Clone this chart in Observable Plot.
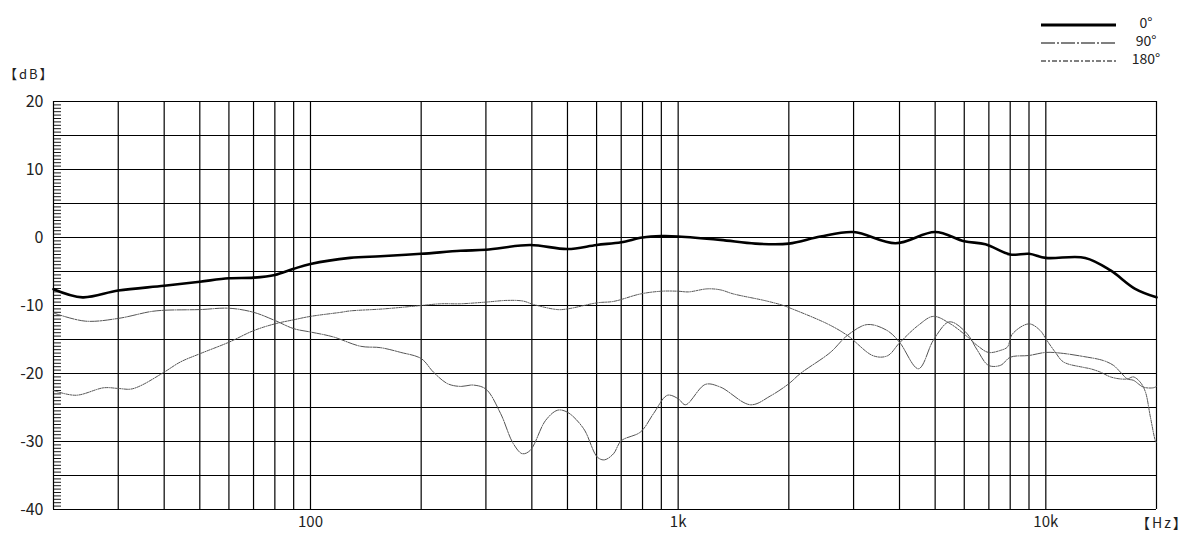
<!DOCTYPE html>
<html><head><meta charset="utf-8">
<script src="https://cdn.jsdelivr.net/npm/d3@7"></script>
<script src="https://cdn.jsdelivr.net/npm/@observablehq/plot@0.6"></script>
<style>
html,body{margin:0;padding:0;background:#fff;}
#wrap{position:relative;width:1200px;height:555px;font-family:"Noto Sans CJK JP","Noto Sans",sans-serif;color:#222;}
.lab{position:absolute;font-size:13px;line-height:1;white-space:nowrap;letter-spacing:2px;}
.leg{position:absolute;left:1040px;width:160px;height:16px;}
.leg svg{position:absolute;left:0;top:0;}
.leg span{position:absolute;left:106px;width:0;top:0;font-size:14px;line-height:1;display:flex;justify-content:center;}
</style></head><body><div id="wrap"></div>
<script>
// 0° (on-axis)
const freq0=[20,24,30,40,50,60,70,80,90,100,128,155,200,256,300,396,500,600,700,800,900,1000,1303,1622,2000,2438,3000,3900,5000,6000,6850,8000,9000,10000,12800,15000,17500,20000];
const db0=[-7.6,-8.8,-7.8,-7.1,-6.5,-6.0,-5.9,-5.5,-4.6,-3.9,-3.0,-2.75,-2.4,-1.95,-1.8,-1.1,-1.7,-1.1,-0.7,0.0,0.2,0.15,-0.35,-0.9,-0.9,0.15,0.8,-0.85,0.8,-0.55,-1.0,-2.5,-2.4,-3.0,-3.0,-4.85,-7.55,-8.8];
// 90°
const freq90=[20,24.4,30,36.7,40,50,60,70,80,90,100,115,137,155,176,200,216,236,256,277,300,329,356,377,396,436,470,500,553,603,630,667,700,790,857,935,1000,1047,1186,1303,1573,1782,2000,2150,2594,2886,3272,3708,4000,4504,4944,5398,5606,6120,6516,6982,7528,8012,9000,10000,10958,12656,14344,15272,15956,16668,17306,18422,19616,20000];
const db90=[-11.1,-12.3,-11.9,-10.9,-10.7,-10.6,-10.4,-11.0,-12.2,-13.4,-13.9,-14.6,-16.0,-16.2,-16.9,-17.8,-19.8,-21.5,-21.9,-21.7,-22.3,-25.9,-30.3,-31.8,-31.3,-26.9,-25.4,-25.7,-28.1,-32.3,-32.7,-31.8,-29.9,-28.6,-25.9,-23.2,-23.7,-24.6,-21.6,-22.0,-24.6,-23.3,-21.5,-20.0,-16.9,-14.4,-12.8,-13.7,-15.4,-19.3,-15.1,-12.5,-12.5,-14.2,-16.6,-18.8,-18.8,-17.6,-17.35,-16.9,-17.0,-17.5,-18.1,-18.8,-19.8,-20.8,-21.0,-22.0,-22.1,-21.9];
// 180°
const freq180=[20,23,27.4,30,32.4,34.5,40,44.3,50,60,70,80,90,100,121,128,158,200,226,256,300,343,379,404,470,500,603,667,790,900,1000,1067,1201,1303,1414,1728,1934,2000,2547,2886,3396,3708,4000,4504,4944,5502,6120,6516,6982,7528,7864,8110,9000,9662,10000,10620,11166,12656,13214,14076,14988,15956,16668,17306,18080,18656,19250,19860,20000];
const db180=[-22.5,-23.2,-22.1,-22.2,-22.3,-21.8,-19.8,-18.3,-17.1,-15.4,-13.7,-12.7,-12.1,-11.6,-11.0,-10.8,-10.5,-10.0,-9.75,-9.75,-9.5,-9.25,-9.35,-9.85,-10.6,-10.5,-9.6,-9.4,-8.3,-7.9,-7.9,-8.0,-7.55,-7.7,-8.3,-9.3,-10.0,-10.3,-12.7,-14.4,-17.4,-17.4,-15.5,-12.9,-11.6,-12.7,-14.6,-15.9,-16.9,-16.6,-16.1,-14.2,-12.7,-13.7,-14.9,-16.9,-18.3,-19.1,-19.3,-19.8,-20.5,-20.8,-20.8,-20.5,-21.3,-22.7,-26.4,-29.9,-30.2];

const seriesNames=["0°","90°","180°"];
const xGridLines=[20,30,40,50,60,70,80,90,100,200,300,400,500,600,700,800,900,1000,2000,3000,4000,5000,6000,7000,8000,9000,10000,20000];
const xTickValues=[100,1000,10000];
const xTickLabels=["100","1k","10k"];
const yGridLines=[-40,-35,-30,-25,-20,-15,-10,-5,0,5,10,15,20];
const yTickValues=[-40,-30,-20,-10,0,10,20];
const yTickLabels=["-40","-30","-20","-10","0","10","20"];
const yMinorTicks=[-40,-39.5,-39,-38.5,-38,-37.5,-37,-36.5,-36,-35.5,-35,-34.5,-34,-33.5,-33,-32.5,-32,-31.5,-31,-30.5,-30,-29.5,-29,-28.5,-28,-27.5,-27,-26.5,-26,-25.5,-25,-24.5,-24,-23.5,-23,-22.5,-22,-21.5,-21,-20.5,-20,-19.5,-19,-18.5,-18,-17.5,-17,-16.5,-16,-15.5,-15,-14.5,-14,-13.5,-13,-12.5,-12,-11.5,-11,-10.5,-10,-9.5,-9,-8.5,-8,-7.5,-7,-6.5,-6,-5.5,-5,-4.5,-4,-3.5,-3,-2.5,-2,-1.5,-1,-0.5,0,0.5,1,1.5,2,2.5,3,3.5,4,4.5,5,5.5,6,6.5,7,7.5,8,8.5,9,9.5,10,10.5,11,11.5,12,12.5,13,13.5,14,14.5,15,15.5,16,16.5,17,17.5,18,18.5,19,19.5,20];
const axisUnitY="【dB】";
const axisUnitX="【Hz】";

const mk=(f,d)=>f.map((v,i)=>({f:v,db:d[i]}));
const rows0=mk(freq0,db0), rows90=mk(freq90,db90), rows180=mk(freq180,db180);
const xLab=new Map(xTickValues.map((v,i)=>[v,xTickLabels[i]]));
const yLab=new Map(yTickValues.map((v,i)=>[v,yTickLabels[i]]));

const dash90="9,1.2,1.2,1.2", dash180="3,1.2,1.2,1.2";

const chart=Plot.plot({
  width:1200,height:555,
  marginTop:101,marginLeft:53,marginRight:44,marginBottom:46,
  x:{type:"log",domain:[20,20000]},
  y:{domain:[-40,20]},
  style:{fontFamily:'"Noto Sans CJK JP","Noto Sans",sans-serif',fontSize:"16px",color:"#222",background:"#fff"},
  marks:[
    Plot.ruleY(yGridLines,{stroke:"#000",strokeWidth:1.2}),
    Plot.ruleX(xGridLines,{stroke:"#000",strokeWidth:1.2}),
    Plot.axisY(yMinorTicks,{tickSize:-8,text:null,stroke:"#000",strokeWidth:0.9,label:null}),
    Plot.axisY(yTickValues,{tickSize:0,tickPadding:10,tickFormat:d=>yLab.get(d),fontSize:16,label:null}),
    Plot.axisX(xTickValues,{tickSize:0,tickPadding:7,tickFormat:d=>xLab.get(d),fontSize:15,label:null}),
    Plot.line(rows180,{x:"f",y:"db",stroke:"#555",strokeWidth:1,strokeDasharray:dash180,curve:"catmull-rom"}),
    Plot.line(rows90,{x:"f",y:"db",stroke:"#555",strokeWidth:1,strokeDasharray:dash90,curve:"catmull-rom"}),
    Plot.line(rows0,{x:"f",y:"db",stroke:"#000",strokeWidth:2.6,curve:"catmull-rom"})
  ]
});
const wrap=document.getElementById("wrap");
wrap.appendChild(chart);
chart.style.position="absolute";chart.style.left="0";chart.style.top="0";

function addLabel(text,left,top,size){
  const d=document.createElement("div");d.className="lab";d.textContent=text;
  d.style.left=left+"px";d.style.top=top+"px";d.style.fontSize=size+"px";wrap.appendChild(d);
}
addLabel(axisUnitY,4,67,13);
addLabel(axisUnitX,1136,515,14);

const legendStyles=[{w:3,dash:null},{w:1,dash:"14,2,2,2"},{w:1,dash:"5,2,2,2"}];
const legendTops=[15,33,51];
seriesNames.forEach((n,i)=>{
  const g=document.createElement("div");g.className="leg";g.style.top=legendTops[i]+"px";
  const s=legendStyles[i];
  g.innerHTML=`<svg width="80" height="20"><line x1="1" x2="76" y1="10" y2="10" stroke="#000" stroke-width="${s.w}" ${s.dash?`stroke-dasharray="${s.dash}"`:""}/></svg><span>${n}</span>`;
  wrap.appendChild(g);
});
</script>
</body></html>
